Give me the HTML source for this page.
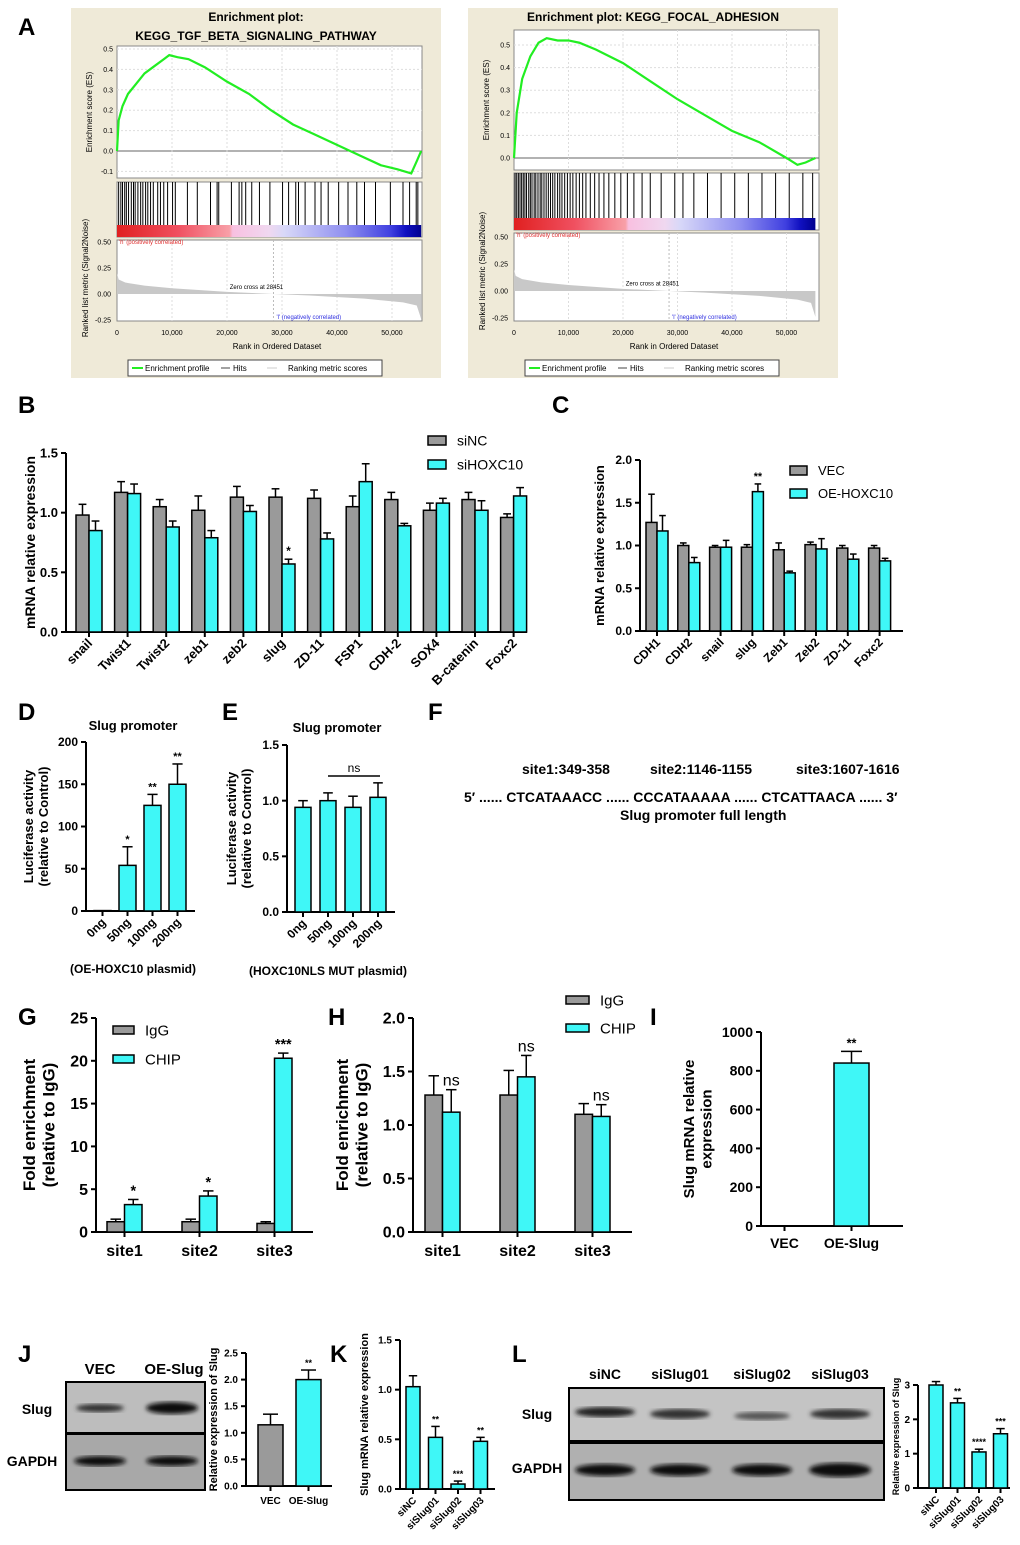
<!DOCTYPE html>
<html><head><meta charset="utf-8"><style>
body{margin:0;background:#fff}
svg{display:block;font-family:"Liberation Sans",Arial,sans-serif}
</style></head><body>
<svg id="fig" width="1020" height="1545" viewBox="0 0 1020 1545" xmlns="http://www.w3.org/2000/svg">
<defs>
<linearGradient id="cbar" x1="0" x2="1" y1="0" y2="0">
<stop offset="0" stop-color="#e02020"/><stop offset="0.2" stop-color="#f05060"/><stop offset="0.37" stop-color="#f8a0a8"/><stop offset="0.38" stop-color="#f8c0e0"/><stop offset="0.5" stop-color="#f0d8f0"/><stop offset="0.55" stop-color="#d8d8f8"/><stop offset="0.75" stop-color="#9090f0"/><stop offset="0.9" stop-color="#4040e0"/><stop offset="0.95" stop-color="#1010c0"/><stop offset="1" stop-color="#000090"/>
</linearGradient>
<filter id="blur"><feGaussianBlur stdDeviation="2.2"/></filter>
</defs>
<g font-weight="bold" font-size="24">
<text x="18" y="35">A</text>
<text x="18" y="413">B</text>
<text x="552" y="413">C</text>
<text x="18" y="720">D</text>
<text x="222" y="720">E</text>
<text x="428" y="720">F</text>
<text x="18" y="1025">G</text>
<text x="328" y="1025">H</text>
<text x="650" y="1025">I</text>
<text x="18" y="1362">J</text>
<text x="330" y="1362">K</text>
<text x="512" y="1362">L</text>
</g>
<g font-weight="bold" font-size="14">
<text x="522" y="774">site1:349-358</text>
<text x="650" y="774">site2:1146-1155</text>
<text x="796" y="774">site3:1607-1616</text>
<text x="464" y="802">5′  ...... CTCATAAACC ...... CCCATAAAAA ...... CTCATTAACA ...... 3′</text>
<text x="620" y="820">Slug promoter full length</text>
</g>
<g>
<rect x="66" y="1382" width="139" height="51" fill="#bdbdbd" stroke="#000" stroke-width="2"/>
<rect x="66" y="1434" width="139" height="56" fill="#a8a8a8" stroke="#000" stroke-width="2"/>
<ellipse cx="100" cy="1408" rx="24" ry="4" fill="#333" filter="url(#blur)"/>
<ellipse cx="172" cy="1408" rx="26" ry="6" fill="#111" filter="url(#blur)"/>
<ellipse cx="100" cy="1461" rx="26" ry="5" fill="#111" filter="url(#blur)"/>
<ellipse cx="172" cy="1461" rx="26" ry="5" fill="#111" filter="url(#blur)"/>
<text x="100" y="1374" font-size="15" font-weight="bold" text-anchor="middle">VEC</text>
<text x="174" y="1374" font-size="15" font-weight="bold" text-anchor="middle">OE-Slug</text>
<text x="37" y="1414" font-size="14" font-weight="bold" text-anchor="middle">Slug</text>
<text x="32" y="1466" font-size="14" font-weight="bold" text-anchor="middle">GAPDH</text>
</g>
<g>
<rect x="569" y="1388" width="315" height="53" fill="#c4c4c4" stroke="#000" stroke-width="2"/>
<rect x="569" y="1443" width="315" height="57" fill="#b0b0b0" stroke="#000" stroke-width="2"/>
<ellipse cx="605" cy="1412" rx="30" ry="5" fill="#222" filter="url(#blur)"/>
<ellipse cx="680" cy="1414" rx="30" ry="5" fill="#333" filter="url(#blur)"/>
<ellipse cx="762" cy="1416" rx="28" ry="4" fill="#555" filter="url(#blur)"/>
<ellipse cx="840" cy="1414" rx="30" ry="5" fill="#333" filter="url(#blur)"/>
<ellipse cx="605" cy="1470" rx="30" ry="6" fill="#111" filter="url(#blur)"/>
<ellipse cx="680" cy="1470" rx="30" ry="6" fill="#111" filter="url(#blur)"/>
<ellipse cx="762" cy="1470" rx="30" ry="6" fill="#111" filter="url(#blur)"/>
<ellipse cx="840" cy="1470" rx="31" ry="7" fill="#111" filter="url(#blur)"/>
<g font-size="14" font-weight="bold" text-anchor="middle">
<text x="605" y="1379">siNC</text><text x="680" y="1379">siSlug01</text><text x="762" y="1379">siSlug02</text><text x="840" y="1379">siSlug03</text>
<text x="537" y="1419">Slug</text><text x="537" y="1473">GAPDH</text>
</g>
</g>
</svg>
<script>
const gseaLeftES=[[0,0],[300,0.15],[1000,0.22],[2000,0.28],[3500,0.33],[5000,0.38],[7000,0.42],[8500,0.45],[9500,0.47],[11000,0.46],[13000,0.45],[16000,0.41],[20000,0.34],[24000,0.28],[28000,0.2],[32000,0.13],[36000,0.08],[40000,0.03],[44000,-0.02],[48000,-0.07],[51000,-0.09],[53500,-0.11],[54500,-0.05],[55300,0]];
const gseaLeftHits=[300,700,1000,1400,1700,2100,2600,3000,3300,3800,4300,4700,5200,5600,6100,6600,7400,7900,8500,9200,10100,10600,12800,14600,17000,18200,18500,20800,22200,22700,23400,24500,25900,27800,30100,31200,32500,33000,34200,36000,37100,38400,40300,42000,43600,45000,47000,49700,52000,53200,54400,54700];
const gseaLeftMetric=[[0,0.2],[300,0.14],[1500,0.11],[5000,0.08],[10000,0.055],[20000,0.02],[28451,0],[35000,-0.015],[45000,-0.045],[52000,-0.08],[54500,-0.11],[55300,-0.24]];
const gseaRightES=[[0,0],[500,0.2],[1500,0.35],[3000,0.45],[4500,0.51],[6000,0.53],[8000,0.52],[10000,0.52],[12000,0.51],[15000,0.48],[20000,0.42],[25000,0.34],[30000,0.26],[35000,0.19],[40000,0.12],[45000,0.07],[50000,0.0],[52000,-0.03],[53500,-0.02],[55300,0]];
const gseaRightHits=[200,500,800,1100,1400,1700,2000,2300,2700,3000,3300,3700,4000,4400,4800,5100,5500,5900,6300,6700,7100,7500,8000,8400,8800,9300,9800,10300,10800,11400,12000,12600,13200,14000,14800,15600,16500,17400,18500,19600,20800,22000,23500,25000,27000,29500,31000,33000,35500,38000,40500,43000,45500,48000,50500,53000,54800];
const gseaRightMetric=[[0,0.2],[300,0.14],[1500,0.11],[5000,0.08],[10000,0.055],[20000,0.02],[28451,0],[35000,-0.015],[45000,-0.045],[52000,-0.08],[54500,-0.11],[55300,-0.24]];

const bCats=['snail','Twist1','Twist2','zeb1','zeb2','slug','ZD-11','FSP1','CDH-2','SOX4','B-catenin','Foxc2'];
const bSiNC=[0.98,1.17,1.05,1.02,1.13,1.13,1.12,1.05,1.11,1.02,1.11,0.96];
const bSiNCErr=[0.09,0.09,0.06,0.12,0.09,0.07,0.07,0.09,0.06,0.06,0.06,0.03];
const bSiHOX=[0.85,1.16,0.88,0.79,1.01,0.57,0.78,1.26,0.89,1.08,1.02,1.14];
const bSiHOXErr=[0.08,0.08,0.05,0.06,0.05,0.04,0.05,0.15,0.02,0.04,0.08,0.07];
const bStars=['','','','','','*','','','','','',''];
const bTicks=[0,0.5,1.0,1.5];
const bTickLabels=['0.0','0.5','1.0','1.5'];

const cCats=['CDH1','CDH2','snail','slug','Zeb1','Zeb2','ZD-11','Foxc2'];
const cVEC=[1.27,1.0,0.98,0.98,0.95,1.01,0.97,0.97];
const cVECErr=[0.33,0.03,0.02,0.03,0.08,0.03,0.03,0.03];
const cOE=[1.17,0.8,0.98,1.63,0.68,0.96,0.84,0.82];
const cOEErr=[0.18,0.06,0.08,0.09,0.02,0.12,0.06,0.03];
const cStars=['','','','**','','','',''];
const cTicks=[0,0.5,1.0,1.5,2.0];
const cTickLabels=['0.0','0.5','1.0','1.5','2.0'];

const dCats=['0ng','50ng','100ng','200ng'];
const dVals=[0.5,54,125,150];
const dErrs=[0,22,13,24];
const dStars=['','*','**','**'];
const dTicks=[0,50,100,150,200];
const dTickLabels=['0','50','100','150','200'];

const eCats=['0ng','50ng','100ng','200ng'];
const eVals=[0.94,1.0,0.94,1.03];
const eErrs=[0.06,0.07,0.1,0.13];
const eTicks=[0,0.5,1.0,1.5];
const eTickLabels=['0.0','0.5','1.0','1.5'];

const gCats=['site1','site2','site3'];
const gIgG=[1.2,1.2,1.0];
const gIgGErr=[0.3,0.3,0.2];
const gChIP=[3.2,4.2,20.3];
const gChIPErr=[0.6,0.6,0.6];
const gStars=['*','*','***'];
const gTicks=[0,5,10,15,20,25];
const gTickLabels=['0','5','10','15','20','25'];

const hCats=['site1','site2','site3'];
const hIgG=[1.28,1.28,1.1];
const hIgGErr=[0.18,0.23,0.1];
const hChIP=[1.12,1.45,1.08];
const hChIPErr=[0.21,0.2,0.11];
const hStars=['ns','ns','ns'];
const hTicks=[0,0.5,1.0,1.5,2.0];
const hTickLabels=['0.0','0.5','1.0','1.5','2.0'];

const iCats=['VEC','OE-Slug'];
const iVals=[1,840];
const iErrs=[0,60];
const iStars=['','**'];
const iTicks=[0,200,400,600,800,1000];
const iTickLabels=['0','200','400','600','800','1000'];

const jCats=['VEC','OE-Slug'];
const jVals=[1.15,2.0];
const jErrs=[0.2,0.18];
const jStars=['','**'];
const jTicks=[0,0.5,1.0,1.5,2.0,2.5];
const jTickLabels=['0.0','0.5','1.0','1.5','2.0','2.5'];

const kCats=['siNC','siSlug01','siSlug02','siSlug03'];
const kVals=[1.03,0.52,0.05,0.48];
const kErrs=[0.11,0.11,0.03,0.04];
const kStars=['','**','***','**'];
const kTicks=[0,0.5,1.0,1.5];
const kTickLabels=['0.0','0.5','1.0','1.5'];

const lCats=['siNC','siSlug01','siSlug02','siSlug03'];
const lVals=[3.0,2.48,1.05,1.58];
const lErrs=[0.1,0.13,0.08,0.15];
const lStars=['','**','****','***'];
const lTicks=[0,1,2,3];
const lTickLabels=['0','1','2','3'];

const NS='http://www.w3.org/2000/svg';
const svg=document.getElementById('fig');
function mk(tag,attrs,parent){const e=document.createElementNS(NS,tag);for(const k in attrs)e.setAttribute(k,attrs[k]);(parent||svg).appendChild(e);return e;}
function txt(p,x,y,s,attrs){const t=mk('text',Object.assign({x:x,y:y},attrs||{}),p);t.textContent=s;return t;}
const CYAN='#3ff7f7', GRAY='#9a9a9a';

function barChart(o){
  const g=mk('g',{});
  
  
  const sy=v=>o.y0-(v-o.vmin)/(o.vmax-o.vmin)*(o.y0-o.y1);
  const fs=o.fs||13, lw=o.lw||2;
  mk('line',{x1:o.ax,x2:o.ax,y1:o.y0,y2:o.y1,stroke:'#000','stroke-width':lw},g);
  mk('line',{x1:o.ax,x2:o.xEnd,y1:o.y0,y2:o.y0,stroke:'#000','stroke-width':lw},g);
  o.ticks.forEach((t,i)=>{
    const y=sy(t);
    const tl=mk('line',{x1:o.ax-5,x2:o.ax,y1:y,y2:y,stroke:'#000','stroke-width':lw},g);
    
    
    const tt=txt(g,o.ax-8,y+fs*0.35,o.tickLabels[i],{'font-size':fs,'font-weight':'bold','text-anchor':'end'});
    
    
  });
  const ns=o.series.length;
  o.cats.forEach((c,i)=>{
    const gx=o.gStart+i*o.gStep;
    const center=gx+ns*o.bw/2;
    o.series.forEach((s,k)=>{
      const v=s.vals[i], x=gx+k*o.bw, yt=sy(v);
      const col=s.colors?s.colors[i]:s.color;
      const r=mk('rect',{x:x,y:yt,width:o.bw,height:Math.max(0,o.y0-yt),fill:col,stroke:'#000','stroke-width':1.5},g);
      
      
      const e=s.errs[i];
      if(e>0){
        const ye=sy(v+e), cx=x+o.bw/2;
        mk('line',{x1:cx,x2:cx,y1:yt,y2:ye,stroke:'#000','stroke-width':1.5},g);
        mk('line',{x1:cx-o.bw*0.3,x2:cx+o.bw*0.3,y1:ye,y2:ye,stroke:'#000','stroke-width':1.5},g);
      }
      if(s.stars&&s.stars[i]){
        const st=txt(g,x+o.bw/2,sy(v+e)-4,s.stars[i],{'font-size':s.stars[i]==='ns'?fs:fs*0.9,'text-anchor':'middle','font-weight':s.stars[i]==='ns'?'normal':'bold'});
        
        
      }
    });
    mk('line',{x1:center,x2:center,y1:o.y0,y2:o.y0+5,stroke:'#000','stroke-width':lw},g);
    let lab;
    if(o.rot){lab=txt(g,center+4,o.y0+12,c,{'font-size':o.cfs||fs,'font-weight':'bold','text-anchor':'end',transform:'rotate(-45 '+(center+4)+' '+(o.y0+12)+')'});}
    else{lab=txt(g,center,o.y0+(o.cfs||fs)+8,c,{'font-size':o.cfs||fs,'font-weight':'bold','text-anchor':'middle'});}
    
    
  });
  if(o.ylabel){
    o.ylabel.forEach((l,i)=>{
      const t=txt(g,0,0,l,{'font-size':o.yfs||fs+1,'font-weight':'bold','text-anchor':'middle',transform:'translate('+(o.ylx+i*(o.yfs||fs+1)*1.15)+' '+((o.y0+o.y1)/2)+') rotate(-90)'});
      
      
    });
  }
  return g;
}
function legend(x,y,gap,items,fs,bw,bh){
  const g=mk('g',{});
  
  
  items.forEach((it,i)=>{
    const r=mk('rect',{x:x,y:y+i*gap,width:bw,height:bh,fill:it[1],stroke:'#000','stroke-width':1.5},g);
    
    
    const t=txt(g,x+bw+11,y+i*gap+bh/2+fs*0.36,it[0],{'font-size':fs});
    
    
  });
}

function gsea(o){
  const g=mk('g',{});
  
  
  mk('rect',{x:o.bx,y:8,width:370,height:370,fill:'#efead8'},g);
  const sx=r=>o.x0+r/10000*o.xs;
  const ses=v=>o.esZero-v*o.esPx;
  const sm=v=>o.mZero-v*o.mPx;
  const xr=o.x0+305;
  mk('rect',{x:o.x0,y:o.esTop,width:305,height:o.esBot-o.esTop,fill:'#fff',stroke:'#888'},g);
  mk('rect',{x:o.x0,y:o.hitTop,width:305,height:o.hitBot-o.hitTop,fill:'#fff',stroke:'#888'},g);
  mk('rect',{x:o.x0,y:o.mTop,width:305,height:o.mBot-o.mTop,fill:'#fff',stroke:'#888'},g);
  txt(g,o.bx+185,21,o.t1,{'font-size':12,'font-weight':'bold','text-anchor':'middle'});
  if(o.t2)txt(g,o.bx+185,40,o.t2,{'font-size':12,'font-weight':'bold','text-anchor':'middle'});
  o.esTicks.forEach(t=>{
    const y=ses(t);
    mk('line',{x1:o.x0,x2:xr,y1:y,y2:y,stroke:t===0?'#666':'#ddd','stroke-dasharray':t===0?'':'2,2'},g);
    txt(g,o.x0-4,y+2.5,t.toFixed(1),{'font-size':7,'text-anchor':'end'});
  });
  [10000,20000,30000,40000,50000].forEach(r=>{mk('line',{x1:sx(r),x2:sx(r),y1:o.esTop,y2:o.esBot,stroke:'#ddd','stroke-dasharray':'2,2'},g);mk('line',{x1:sx(r),x2:sx(r),y1:o.mTop,y2:o.mBot,stroke:'#ddd','stroke-dasharray':'2,2'},g);});
  const yl=txt(g,0,0,'Enrichment score (ES)',{'font-size':8,'text-anchor':'middle',transform:'translate('+(o.x0-25)+' '+((o.esTop+o.esBot)/2)+') rotate(-90)'});
  
  
  const p=mk('polyline',{points:o.es.map(d=>sx(d[0])+','+ses(d[1])).join(' '),fill:'none',stroke:'#22ee22','stroke-width':2.2},g);
  
  
  o.hits.forEach(h=>{
    const l=mk('line',{x1:sx(h),x2:sx(h),y1:o.hitTop,y2:o.hitBot-12,stroke:'#000','stroke-width':1},g);
    
    
  });
  mk('rect',{x:o.x0,y:o.hitBot-12,width:sx(55300)-o.x0,height:12,fill:'url(#cbar)'},g);
  txt(g,o.x0+2,o.hitBot+7,"'h' (positively correlated)",{'font-size':6,fill:'#e03030'});
  o.mTicks.forEach(t=>{txt(g,o.x0-6,sm(t)+2.5,t.toFixed(2),{'font-size':7,'text-anchor':'end'});});
  const ar=mk('path',{d:'M'+sx(0)+','+sm(0)+' '+o.metric.map(d=>'L'+sx(d[0])+','+sm(d[1])).join(' ')+' L'+sx(55300)+','+sm(0)+'Z',fill:'#c8c8c8'},g);
  
  
  mk('line',{x1:sx(28451),x2:sx(28451),y1:o.mTop,y2:o.mBot,stroke:'#bbb','stroke-dasharray':'2,2'},g);
  txt(g,sx(20500),sm(0.05),'Zero cross at 28451',{'font-size':6});
  txt(g,sx(29000),o.mBot-2,"'l' (negatively correlated)",{'font-size':6,fill:'#3030e0'});
  const ml=txt(g,0,0,'Ranked list metric (Signal2Noise)',{'font-size':8,'text-anchor':'middle',transform:'translate('+(o.x0-29)+' '+(o.mTop+38)+') rotate(-90)'});
  
  
  [0,10000,20000,30000,40000,50000].forEach(r=>txt(g,sx(r),o.mBot+14,r===0?'0':(r/1000)+',000',{'font-size':7,'text-anchor':'middle'}));
  txt(g,o.x0+160,o.mBot+28,'Rank in Ordered Dataset',{'font-size':8,'text-anchor':'middle'});
  const lg=mk('rect',{x:o.x0+11,y:360,width:254,height:16,fill:'#fff',stroke:'#444'},g);
  
  
  mk('line',{x1:o.x0+15,x2:o.x0+26,y1:368,y2:368,stroke:'#22ee22','stroke-width':2},g);
  txt(g,o.x0+28,371,'Enrichment profile',{'font-size':8});
  mk('line',{x1:o.x0+104,x2:o.x0+113,y1:368,y2:368,stroke:'#444'},g);
  txt(g,o.x0+116,371,'Hits',{'font-size':8});
  mk('line',{x1:o.x0+150,x2:o.x0+160,y1:368,y2:368,stroke:'#ccc'},g);
  txt(g,o.x0+171,371,'Ranking metric scores',{'font-size':8});
}
gsea({name:'gsea-tgf-beta',bx:71,x0:117,xs:55,es:gseaLeftES,hits:gseaLeftHits,metric:gseaLeftMetric,esTop:46,esBot:178,esZero:151,esPx:204,esTicks:[0.5,0.4,0.3,0.2,0.1,0,-0.1],hitTop:182,hitBot:237,mTop:240,mBot:321,mZero:294,mPx:104,mTicks:[0.5,0.25,0,-0.25],t1:'Enrichment plot:',t2:'KEGG_TGF_BETA_SIGNALING_PATHWAY'});
gsea({name:'gsea-focal-adhesion',bx:468,x0:514,xs:54.5,es:gseaRightES,hits:gseaRightHits,metric:gseaRightMetric,esTop:30,esBot:170,esZero:158,esPx:226,esTicks:[0.5,0.4,0.3,0.2,0.1,0],hitTop:173,hitBot:230,mTop:233,mBot:321,mZero:291,mPx:108,mTicks:[0.5,0.25,0,-0.25],t1:'Enrichment plot: KEGG_FOCAL_ADHESION',t2:''});

barChart({name:'chart-b',ax:66,y0:632,y1:453,vmin:0,vmax:1.5,ticks:bTicks,tickLabels:bTickLabels,cats:bCats,gStart:76,gStep:38.6,bw:13,xEnd:527,rot:true,fs:13,
 series:[{key:'siNC',vals:bSiNC,errs:bSiNCErr,color:GRAY},{key:'siHOXC10',vals:bSiHOX,errs:bSiHOXErr,color:CYAN,stars:bStars}],ylabel:['mRNA relative expression'],ylx:35,yfs:14});
legend(428,436,24,[['siNC',GRAY],['siHOXC10',CYAN]],14,18,9);
barChart({name:'chart-c',ax:640,y0:631,y1:460,vmin:0,vmax:2.0,ticks:cTicks,tickLabels:cTickLabels,cats:cCats,gStart:646,gStep:31.8,bw:11,xEnd:903,rot:true,fs:12,
 series:[{key:'VEC',vals:cVEC,errs:cVECErr,color:GRAY},{key:'OE-HOXC10',vals:cOE,errs:cOEErr,color:CYAN,stars:cStars}],ylabel:['mRNA relative expression'],ylx:604,yfs:13});
legend(790,466,23,[['VEC',GRAY],['OE-HOXC10',CYAN]],13,17,9);
barChart({name:'chart-d',ax:86,y0:911,y1:742,vmin:0,vmax:200,ticks:dTicks,tickLabels:dTickLabels,cats:dCats,gStart:94,gStep:25,bw:17,xEnd:195,rot:true,fs:12,
 series:[{key:'oe-hoxc10',vals:dVals,errs:dErrs,color:CYAN,stars:dStars}],ylabel:['Luciferase activity','(relative to Control)'],ylx:33,yfs:13});
txt(svg,133,730,'Slug promoter',{'font-size':13,'font-weight':'bold','text-anchor':'middle'});
txt(svg,133,973,'(OE-HOXC10 plasmid)',{'font-size':12,'font-weight':'bold','text-anchor':'middle'});
barChart({name:'chart-e',ax:287,y0:912,y1:745,vmin:0,vmax:1.5,ticks:eTicks,tickLabels:eTickLabels,cats:eCats,gStart:295,gStep:25,bw:16,xEnd:395,rot:true,fs:12,
 series:[{key:'hoxc10nls-mut',vals:eVals,errs:eErrs,color:CYAN}],ylabel:['Luciferase activity','(relative to Control)'],ylx:236,yfs:13});
mk('line',{x1:328,x2:380,y1:776,y2:776,stroke:'#000','stroke-width':1.5});
txt(svg,354,772,'ns',{'font-size':12,'text-anchor':'middle'});
txt(svg,337,732,'Slug promoter',{'font-size':13,'font-weight':'bold','text-anchor':'middle'});
txt(svg,328,975,'(HOXC10NLS MUT plasmid)',{'font-size':12,'font-weight':'bold','text-anchor':'middle'});
barChart({name:'chart-g',ax:96,y0:1232,y1:1018,vmin:0,vmax:25,ticks:gTicks,tickLabels:gTickLabels,cats:gCats,gStart:107,gStep:75,bw:17.5,xEnd:313,rot:false,fs:16,cfs:16,
 series:[{key:'IgG',vals:gIgG,errs:gIgGErr,color:GRAY},{key:'CHIP',vals:gChIP,errs:gChIPErr,color:CYAN,stars:gStars}],ylabel:['Fold enrichment','(relative to IgG)'],ylx:35,yfs:17});
legend(113,1026,29,[['IgG',GRAY],['CHIP',CYAN]],15,21,8);
barChart({name:'chart-h',ax:413,y0:1232,y1:1018,vmin:0,vmax:2.0,ticks:hTicks,tickLabels:hTickLabels,cats:hCats,gStart:425,gStep:75,bw:17.5,xEnd:632,rot:false,fs:16,cfs:16,
 series:[{key:'IgG',vals:hIgG,errs:hIgGErr,color:GRAY},{key:'CHIP',vals:hChIP,errs:hChIPErr,color:CYAN,stars:hStars}],ylabel:['Fold enrichment','(relative to IgG)'],ylx:348,yfs:17});
legend(566,996,28,[['IgG',GRAY],['CHIP',CYAN]],15,23,8);
barChart({name:'chart-i',ax:761,y0:1226,y1:1032,vmin:0,vmax:1000,ticks:iTicks,tickLabels:iTickLabels,cats:iCats,gStart:767,gStep:67,bw:35,xEnd:903,rot:false,fs:14,cfs:14,
 series:[{key:'slug',vals:iVals,errs:iErrs,color:CYAN,stars:iStars}],ylabel:['Slug mRNA relative','expression'],ylx:694,yfs:15});
barChart({name:'chart-j',ax:246,y0:1486,y1:1353,vmin:0,vmax:2.5,ticks:jTicks,tickLabels:jTickLabels,cats:jCats,gStart:258,gStep:38,bw:25,xEnd:332,rot:false,fs:10,cfs:10,
 series:[{key:'slug',vals:jVals,errs:jErrs,colors:[GRAY,CYAN],stars:jStars}],ylabel:['Relative expression of Slug'],ylx:217,yfs:11});
barChart({name:'chart-k',ax:400,y0:1489,y1:1340,vmin:0,vmax:1.5,ticks:kTicks,tickLabels:kTickLabels,cats:kCats,gStart:406,gStep:22.5,bw:14,xEnd:495,rot:true,fs:10,cfs:10,
 series:[{key:'slug-mrna',vals:kVals,errs:kErrs,color:CYAN,stars:kStars}],ylabel:['Slug mRNA relative expression'],ylx:368,yfs:11});
barChart({name:'chart-l',ax:918,y0:1488,y1:1385,vmin:0,vmax:3,ticks:lTicks,tickLabels:lTickLabels,cats:lCats,gStart:929,gStep:21.5,bw:14,xEnd:1010,rot:true,fs:10,cfs:10,
 series:[{key:'slug-protein',vals:lVals,errs:lErrs,color:CYAN,stars:lStars}],ylabel:['Relative expression of Slug'],ylx:899,yfs:9});
</script>
</body></html>
